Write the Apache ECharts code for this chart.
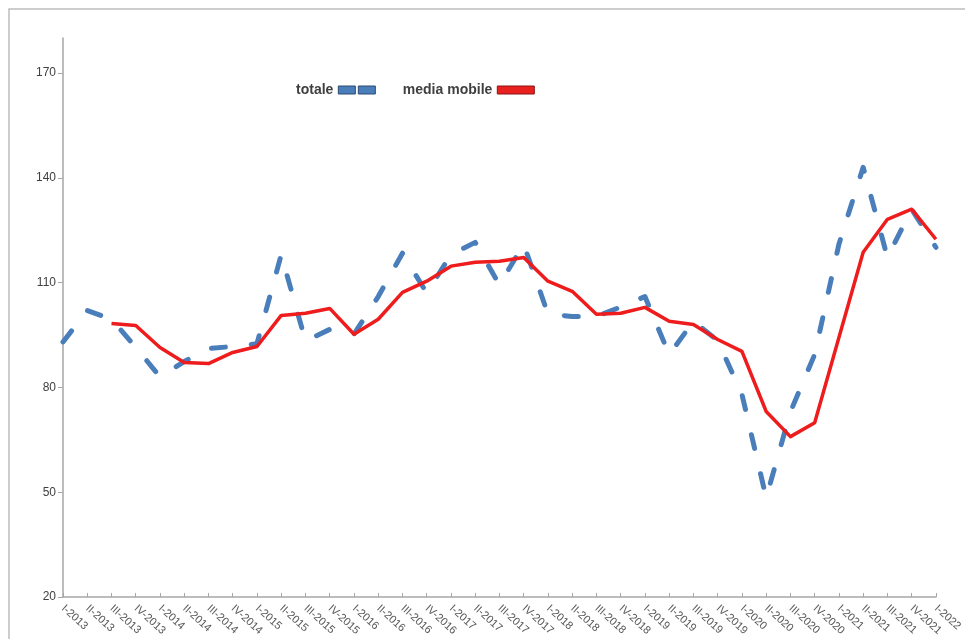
<!DOCTYPE html>
<html>
<head>
<meta charset="utf-8">
<script src="https://cdn.jsdelivr.net/npm/echarts@6/dist/echarts.min.js"></script>
<style>html,body{margin:0;padding:0;background:#fff}#c{width:965px;height:639px}</style>
</head>
<body>
<div id="c"></div>
<script>
const categories = ['I-2013','II-2013','III-2013','IV-2013','I-2014','II-2014','III-2014','IV-2014',
 'I-2015','II-2015','III-2015','IV-2015','I-2016','II-2016','III-2016','IV-2016',
 'I-2017','II-2017','III-2017','IV-2017','I-2018','II-2018','III-2018','IV-2018',
 'I-2019','II-2019','III-2019','IV-2019','I-2020','II-2020','III-2020','IV-2020',
 'I-2021','II-2021','III-2021','IV-2021','I-2022'];
const totale = [93, 102, 99.5, 91.5, 83, 87.4, 91.1, 91.7,
 92.5, 118, 93.3, 96.6, 95.2, 106, 118.4, 107,
 118, 121.5, 109.3, 121, 101, 100.3, 100.3, 103,
 106, 89.4, 98.9, 93.4, 78, 48.4, 73, 89.4,
 121, 143, 117.2, 131, 120.1];
const mediaMobile = [null, null, 98.3, 97.7, 91.4, 87.1, 86.8, 90,
 91.7, 100.6, 101.2, 102.6, 95.2, 99.5, 107.2, 110.4,
 114.7, 115.8, 116.1, 117.2, 110.4, 107.5, 100.9, 101.2,
 102.9, 98.9, 98, 93.7, 90.3, 73.1, 65.9, 69.9,
 94.3, 118.7, 128.1, 131, 122.4];
const yTicks = [20, 50, 80, 110, 140, 170];

const chart = echarts.init(document.getElementById('c'), null, {renderer: 'canvas'});
chart.setOption({
  animation: false,
  backgroundColor: '#ffffff',
  graphic: [{
    type: 'rect', silent: true, z: -1,
    shape: {x: 9, y: 9, width: 1000, height: 700},
    style: {fill: 'none', stroke: '#bdbdbd', lineWidth: 1.5}
  }],
  legend: {
    left: 296, top: 83, padding: 0,
    align: 'right',
    itemWidth: 37, itemHeight: 8, itemGap: 27,
    textStyle: {fontFamily: 'Liberation Sans, Arial, sans-serif', fontWeight: 'bold', fontSize: 14, color: '#404040', padding: [0, 0, 0, 0]},
    data: [
      {name: 'totale', icon: 'path://M0,0H17V8H0Z M20,0H37V8H20Z',
        itemStyle: {color: '#4A7EBB', borderColor: '#2c4a70', borderWidth: 1}},
      {name: 'media mobile', icon: 'rect',
        itemStyle: {color: '#E8201E', borderColor: '#8a1414', borderWidth: 1}}
    ]
  },
  grid: {left: 63, right: 23, top: 38, bottom: 42, containLabel: false},
  xAxis: {
    type: 'category',
    data: categories,
    boundaryGap: false,
    axisLine: {lineStyle: {color: '#a6a6a6', width: 1.5}},
    axisTick: {inside: true, length: 4, lineStyle: {color: '#a6a6a6'}},
    axisLabel: {interval: 0, rotate: -42, fontSize: 11, color: '#595959',
      fontFamily: 'Liberation Sans, Arial, sans-serif', margin: 10},
    splitLine: {show: false}
  },
  yAxis: {
    type: 'value',
    min: 20, max: 180, interval: 30,
    axisLine: {show: true, lineStyle: {color: '#a6a6a6', width: 1.5}},
    axisTick: {show: true, length: 5, lineStyle: {color: '#a6a6a6'}, customValues: yTicks},
    axisLabel: {fontSize: 12, color: '#404040', fontFamily: 'Liberation Sans, Arial, sans-serif', margin: 7, customValues: yTicks},
    splitLine: {show: false}
  },
  series: [
    {
      name: 'totale', type: 'line', data: totale,
      showSymbol: false, symbol: 'none',
      color: '#4A7EBB',
      lineStyle: {color: '#4A7EBB', width: 5, type: [14, 26], cap: 'round', join: 'round'},
      z: 2
    },
    {
      name: 'media mobile', type: 'line', data: mediaMobile,
      showSymbol: false, symbol: 'none',
      color: '#EE1C1C',
      lineStyle: {color: '#EE1C1C', width: 3.5, join: 'round'},
      z: 3
    }
  ]
});
</script>
</body>
</html>
